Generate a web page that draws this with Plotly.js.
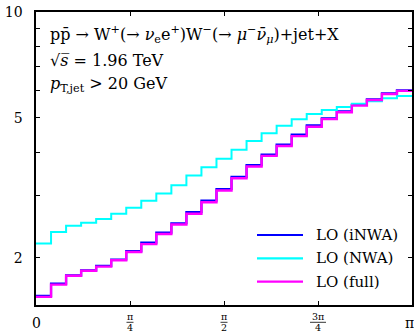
<!DOCTYPE html>
<html>
<head>
<meta charset="utf-8">
<script src="https://cdn.plot.ly/plotly-3.0.1.min.js"></script>
<style>html,body{margin:0;padding:0;background:#fff;}#chart{width:414px;height:332px;}</style>
</head>
<body>
<div id="chart"></div>
<script>
// ---- data ----
const nBins = 25;
const seriesNames = ["LO (iNWA)", "LO (NWA)", "LO (full)"];
const loINWA = [1.56, 1.69, 1.785, 1.845, 1.90, 1.98, 2.09, 2.21, 2.36, 2.51, 2.70, 2.91, 3.14, 3.40, 3.67, 3.93, 4.20, 4.48, 4.76, 4.99, 5.22, 5.45, 5.65, 5.87, 5.99];
const loNWA  = [2.20, 2.37, 2.47, 2.52, 2.58, 2.67, 2.78, 2.91, 3.05, 3.22, 3.43, 3.62, 3.83, 4.06, 4.30, 4.52, 4.75, 4.96, 5.13, 5.27, 5.37, 5.49, 5.58, 5.69, 5.77];
const loFull = [1.55, 1.68, 1.78, 1.84, 1.89, 1.97, 2.08, 2.19, 2.34, 2.49, 2.67, 2.88, 3.11, 3.37, 3.64, 3.90, 4.16, 4.44, 4.72, 4.96, 5.19, 5.42, 5.62, 5.85, 5.97];
const yTickVals = [2, 5, 10];
const yTickText = ["2", "5", "10"];
const yMinorVals = [3, 4, 6, 7, 8, 9];
const xTickVals = [0, Math.PI / 4, Math.PI / 2, 3 * Math.PI / 4, Math.PI];
const xTickNum = ["0", "π", "π", "3π", "π"];
const xTickDen = ["", "4", "2", "4", ""];
const infoLines = [
  "pp̄ → W<sup>+</sup>(→ <i>ν</i><sub>e</sub>e<sup>+</sup>)W<sup>−</sup>(→ <i>μ</i><sup>−</sup><i>ν̄</i><sub><i>μ</i></sub>)+jet+X",
  "√<i>s̅</i> = 1.96 TeV",
  "<i>p</i><sub>T,jet</sub> > 20 GeV"
];

// ---- helpers ----
const edges = [];
for (let k = 0; k <= nBins; k++) edges.push(k * Math.PI / nBins);
function stepY(v) { return v.concat([v[v.length - 1]]); }

const FONT = "DejaVu Serif, Liberation Serif, serif";
const M = {l: 36, r: 2, t: 12, b: 27};
const H = 332, W = 414;
const plotH = H - M.t - M.b, plotW = W - M.l - M.r;
function py(pix) { return (H - M.b - pix) / plotH; } // pixel row -> paper y
function px(pix) { return (pix - M.l) / plotW; }     // pixel col -> paper x

const colors = ["#0000ff", "#00ffff", "#ff00ff"];
const widths = [2.2, 2, 2.4];
const data = [loINWA, loNWA, loFull].map((v, i) => ({
  type: "scatter", mode: "lines", x: edges, y: stepY(v),
  line: {shape: "hv", color: colors[i], width: widths[i]},
  name: seriesNames[i], showlegend: false
}));

const annotations = [];
const shapes = [];
infoLines.forEach((t, i) => {
  annotations.push({xref: "paper", yref: "paper", x: px(48), y: py([35, 60, 84][i]),
    xanchor: "left", yanchor: "middle", showarrow: false, align: "left",
    text: t, font: {family: FONT, size: 16, color: "#000"}});
});
// x tick labels (plain and fractions)
xTickVals.forEach((v, i) => {
  if (xTickDen[i] === "") {
    annotations.push({xref: "x", yref: "paper", x: v, y: py(323), xanchor: "center", yanchor: "middle",
      xshift: i === xTickVals.length - 1 ? -3 : 0,
      showarrow: false, text: xTickNum[i], font: {family: FONT, size: 14, color: "#000"}});
  } else {
    annotations.push({xref: "x", yref: "paper", x: v, y: py(316.5), xanchor: "center", yanchor: "middle",
      showarrow: false, text: xTickNum[i], font: {family: FONT, size: 9.5, color: "#000"}});
    annotations.push({xref: "x", yref: "paper", x: v, y: py(327.5), xanchor: "center", yanchor: "middle",
      showarrow: false, text: xTickDen[i], font: {family: FONT, size: 9.5, color: "#000"}});
    const half = xTickNum[i].length > 1 ? 8 : 3.5;
    shapes.push({type: "line", xref: "x", yref: "paper", xsizemode: "pixel", xanchor: v,
      x0: -half, x1: half, y0: py(322.3), y1: py(322.3), line: {color: "#000", width: 0.8}});
  }
});
// legend drawn by hand (long line samples like the reference)
const legendRows = [235, 258.3, 281.7];
seriesNames.forEach((n, i) => {
  shapes.push({type: "line", xref: "paper", yref: "paper", x0: px(257), x1: px(303),
    y0: py(legendRows[i]), y1: py(legendRows[i]), line: {color: colors[i], width: 2.2}});
  annotations.push({xref: "paper", yref: "paper", x: px(314), y: py(legendRows[i]), xanchor: "left", yanchor: "middle",
    showarrow: false, text: n, font: {family: FONT, size: 15, color: "#000"}});
});

const layout = {
  width: W, height: H, margin: M,
  paper_bgcolor: "#fff", plot_bgcolor: "#fff",
  font: {family: FONT, size: 14, color: "#000"},
  showlegend: false,
  xaxis: {range: [0, Math.PI], tickmode: "array", tickvals: xTickVals, showticklabels: false,
    ticks: "inside", ticklen: 4, tickwidth: 1, tickcolor: "#000", mirror: "ticks",
    showline: true, linecolor: "#000", linewidth: 1.6, showgrid: false, zeroline: false},
  yaxis: {type: "log", range: [Math.log10(1.47), 1], tickmode: "array", tickvals: yTickVals, ticktext: yTickText,
    ticks: "inside", ticklen: 4, tickwidth: 1, tickcolor: "#000", mirror: "ticks",
    minor: {tickmode: "array", tickvals: yMinorVals, ticks: "inside", ticklen: 4, tickwidth: 1, tickcolor: "#000", showgrid: false},
    showline: true, linecolor: "#000", linewidth: 1.6, showgrid: false, zeroline: false,
    ticklabelstandoff: 9, tickfont: {family: FONT, size: 14}},
  annotations: annotations, shapes: shapes
};

Plotly.newPlot("chart", data, layout, {staticPlot: true, displayModeBar: false});
</script>
</body>
</html>
